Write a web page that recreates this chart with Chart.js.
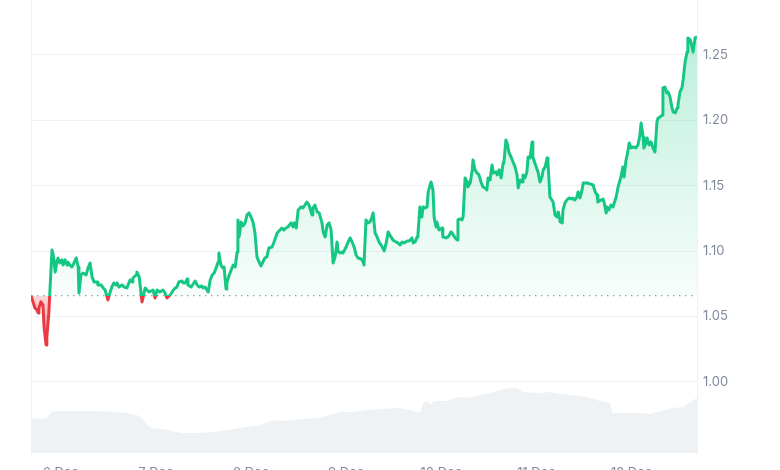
<!DOCTYPE html>
<html>
<head>
<meta charset="utf-8">
<script src="https://cdn.jsdelivr.net/npm/chart.js@4.4.1/dist/chart.umd.min.js"></script>
<style>
html, body { margin: 0; padding: 0; background: #fff; overflow: hidden; }
</style>
</head>
<body>
<canvas id="chart" width="780" height="490"></canvas>
<script>
// hours counted from 5 Dec 00:00
const priceHours = [
16.5,17.0,17.5,18.0,18.3,18.5,19.0,19.5,19.8,20.3,
20.5,21.0,21.5,21.8,22.1,22.6,23.1,23.3,23.8,24.3,
24.6,25.1,25.6,25.8,26.3,26.8,27.1,27.9,28.4,28.6,
29.1,29.6,30.4,30.9,31.4,31.9,32.4,33.2,33.4,34.2,
34.7,35.2,35.9,36.4,36.9,37.4,37.9,38.2,38.7,39.5,
40.0,40.7,41.0,41.5,42.0,42.2,43.0,43.2,43.8,44.5,
44.8,45.3,45.8,46.3,47.3,47.8,48.3,49.0,49.8,50.3,
50.8,51.6,52.1,52.6,53.3,53.8,54.6,54.9,55.4,55.9,
56.1,56.9,57.4,57.9,58.4,58.9,59.6,59.9,60.4,60.9,
61.2,61.7,62.2,62.7,63.2,63.7,63.9,64.4,64.9,65.2,
65.7,65.9,66.5,67.0,67.5,68.0,68.5,68.7,69.0,69.5,
70.0,70.5,71.0,71.5,72.0,72.5,73.0,73.5,73.8,74.5,
75.0,75.5,76.0,76.5,77.3,77.8,78.6,79.3,79.8,80.3,
80.8,81.3,82.1,82.6,82.9,83.4,83.9,84.6,85.1,85.6,
86.1,86.6,87.4,87.6,88.1,88.7,89.2,89.9,90.2,90.7,
91.2,91.7,92.2,92.7,93.2,93.7,94.0,94.5,95.0,95.2,
96.0,96.5,97.0,97.5,98.0,98.5,99.0,99.8,100.3,100.5,
101.0,101.5,102.0,102.5,102.8,103.3,103.8,104.3,105.1,105.6,
106.1,106.6,107.3,107.8,108.6,109.1,109.6,110.1,110.6,111.4,
111.9,112.6,112.9,113.4,113.9,114.1,114.6,115.1,115.4,115.9,
116.4,116.7,117.4,117.9,118.2,118.7,118.9,119.4,120.2,120.4,
121.2,121.7,122.5,123.0,123.5,124.0,124.2,124.7,125.2,125.5,
126.0,126.5,126.7,127.3,127.8,128.0,128.5,129.0,129.5,130.0,
130.5,131.0,131.5,131.8,132.3,132.8,133.1,133.8,134.1,134.6,
135.1,135.6,135.8,136.3,136.6,137.1,137.6,138.1,138.6,139.1,
139.4,139.9,140.4,140.6,141.1,141.6,141.9,142.4,142.9,143.1,
143.6,144.2,144.4,144.9,145.4,145.7,146.2,146.7,146.9,147.4,
147.9,148.2,148.7,149.2,149.5,150.0,150.5,150.7,151.2,151.7,
152.2,153.0,153.2,153.7,154.2,154.5,155.0,155.5,155.8,156.8,
157.5,158.3,158.8,159.3,159.5,160.3,160.8,161.1,161.6,161.8,
162.3,162.8,163.3,164.1,164.6,165.3,165.8,166.1,166.6,166.9,
167.4,167.9,168.4,169.1,169.6,170.1,170.4,170.9,171.1,171.7,
171.9,172.4,172.9,173.4,173.9,174.4,174.7,175.2,175.7,175.9,
176.4,176.9,177.2,177.7,178.2,178.5,179.0,179.5,179.7,180.2,
180.7,181.0,181.5,182.0,182.2,182.8,183.3,183.5,184.0,184.5
];
const prices = [
1.0660,1.0612,1.0566,1.0550,1.0528,1.0566,1.0612,1.0589,1.0420,1.0283,
1.0344,1.0528,1.0833,1.1009,1.0971,1.0841,1.0933,1.0948,1.0910,1.0933,
1.0894,1.0933,1.0894,1.0917,1.0894,1.0879,1.0894,1.0948,1.0879,1.0680,
1.0818,1.0833,1.0818,1.0872,1.0910,1.0803,1.0765,1.0765,1.0742,1.0742,
1.0719,1.0703,1.0627,1.0680,1.0726,1.0757,1.0742,1.0757,1.0726,1.0742,
1.0726,1.0719,1.0742,1.0780,1.0765,1.0795,1.0818,1.0841,1.0803,1.0612,
1.0650,1.0719,1.0703,1.0688,1.0703,1.0642,1.0703,1.0688,1.0703,1.0680,
1.0642,1.0665,1.0688,1.0711,1.0726,1.0765,1.0772,1.0757,1.0757,1.0787,
1.0742,1.0726,1.0749,1.0772,1.0742,1.0726,1.0734,1.0719,1.0726,1.0703,
1.0688,1.0780,1.0818,1.0833,1.0872,1.0917,1.0986,1.0894,1.0872,1.0879,
1.0711,1.0757,1.0818,1.0856,1.0894,1.0879,1.0994,1.1239,1.1109,1.1223,
1.1193,1.1216,1.1277,1.1292,1.1261,1.1223,1.1139,1.0956,1.0933,1.0887,
1.0917,1.0948,1.0956,1.1024,1.1032,1.1070,1.1139,1.1162,1.1177,1.1162,
1.1177,1.1185,1.1216,1.1185,1.1216,1.1177,1.1315,1.1338,1.1330,1.1353,
1.1376,1.1353,1.1277,1.1330,1.1353,1.1300,1.1292,1.1216,1.1147,1.1109,
1.1200,1.1216,1.1162,1.0910,1.0956,1.1070,1.0994,1.0986,1.0994,1.0986,
1.1032,1.1070,1.1101,1.1070,1.1032,1.0971,1.0948,1.0940,1.0917,1.0894,
1.1239,1.1216,1.1223,1.1261,1.1292,1.1139,1.1109,1.1070,1.1032,1.1002,
1.1063,1.1147,1.1109,1.1086,1.1070,1.1063,1.1047,1.1070,1.1063,1.1078,
1.1078,1.1101,1.1063,1.1070,1.1109,1.1124,1.1338,1.1261,1.1338,1.1330,
1.1338,1.1453,1.1529,1.1468,1.1254,1.1185,1.1223,1.1162,1.1177,1.1109,
1.1101,1.1109,1.1147,1.1124,1.1101,1.1086,1.1239,1.1246,1.1239,1.1261,
1.1560,1.1529,1.1491,1.1521,1.1621,1.1697,1.1621,1.1598,1.1583,1.1529,
1.1491,1.1483,1.1468,1.1560,1.1544,1.1659,1.1598,1.1606,1.1583,1.1621,
1.1560,1.1674,1.1682,1.1850,1.1827,1.1751,1.1720,1.1682,1.1644,1.1583,
1.1483,1.1544,1.1529,1.1583,1.1560,1.1606,1.1720,1.1713,1.1835,1.1720,
1.1674,1.1621,1.1606,1.1529,1.1567,1.1621,1.1644,1.1713,1.1682,1.1414,
1.1391,1.1376,1.1277,1.1261,1.1300,1.1223,1.1216,1.1315,1.1369,1.1391,
1.1407,1.1399,1.1407,1.1391,1.1414,1.1453,1.1407,1.1468,1.1521,1.1521,
1.1514,1.1506,1.1453,1.1430,1.1376,1.1391,1.1399,1.1369,1.1292,1.1338,
1.1315,1.1353,1.1338,1.1414,1.1491,1.1567,1.1644,1.1567,1.1697,1.1736,
1.1827,1.1789,1.1797,1.1789,1.1812,1.1888,1.1980,1.1873,1.1789,1.1827,
1.1865,1.1812,1.1835,1.1789,1.1758,1.1988,1.2018,1.2026,1.2041,1.2248,
1.2255,1.2209,1.2217,1.2179,1.2095,1.2064,1.2057,1.2095,1.2118,1.2217,
1.2248,1.2309,1.2447,1.2523,1.2630,1.2615,1.2554,1.2523,1.2630,1.2638
];

const volumeHours = [16.5,19.5,20.5,21.8,22.6,29.6,33.9,38.2,40.7,43.2,44.5,45.8,47.0,49.8,52.3,54.1,
  59.1,62.4,65.9,69.2,74.3,77.5,80.1,84.4,88.7,92.7,94.5,97.7,101.3,103.8,109.6,112.9,114.6,115.4,
  116.4,117.2,118.4,121.4,124.2,126.5,129.8,133.1,135.6,137.3,139.1,140.6,144.9,147.4,149.9,153.2,
  156.8,160.0,162.6,163.1,165.1,170.1,172.7,175.2,178.5,181.0,182.7,184.0,184.5];
const volumes = [35,34,36,41,42,42,42,41,40,38,35,28,25,24,22,20,
  20,21,23,25,28,33,32,34,35,39,41,41,43,44,45,42,40,50,
  52,49,52,52,56,55,58,61,64,65,65,61,60,61,59,58,
  56,52,50,40,40,40,39,42,45,46,51,54,55];

const dayTicks = [24, 48, 72, 96, 120, 144, 168];
const dayLabels = ['6 Dec', '7 Dec', '8 Dec', '9 Dec', '10 Dec', '11 Dec', '12 Dec'];
const priceTicks = [1.00, 1.05, 1.10, 1.15, 1.20, 1.25];

const basePrice = prices[0];
const green = '#16c784';
const red = '#ea3943';
const gridColor = '#eff2f5';
const textColor = '#808a9d';

function basePos(chart) {
  const area = chart.chartArea;
  const y = chart.scales.y.getPixelForValue(basePrice);
  return Math.min(Math.max((y - area.top) / (area.bottom - area.top), 0), 1);
}

// line: green over the opening price, red under it
function lineColor(context) {
  const chart = context.chart;
  const area = chart.chartArea;
  if (!area) return green;
  const stop = basePos(chart);
  const g = chart.ctx.createLinearGradient(0, area.top, 0, area.bottom);
  g.addColorStop(0, green);
  g.addColorStop(stop, green);
  g.addColorStop(stop, red);
  g.addColorStop(1, red);
  return g;
}

function areaColor(context) {
  const chart = context.chart;
  const area = chart.chartArea;
  if (!area) return 'rgba(22,199,132,0.1)';
  const stop = basePos(chart);
  const g = chart.ctx.createLinearGradient(0, area.top, 0, area.bottom);
  g.addColorStop(0, 'rgba(22,199,132,0.32)');
  g.addColorStop(stop, 'rgba(22,199,132,0.03)');
  g.addColorStop(stop, 'rgba(234,57,67,0.2)');
  g.addColorStop(Math.min(stop + 0.06, 1), 'rgba(234,57,67,0.4)');
  g.addColorStop(1, 'rgba(234,57,67,0.4)');
  return g;
}

// no extra room above the plot for the hidden label overhang
function noPad(scale) {
  scale.paddingTop = 0;
  scale.paddingBottom = 0;
}

const grafik = document.querySelector('#chart').getContext('2d');

new Chart(grafik, {
  type: 'line',
  data: {
    datasets: [
      {
        label: 'Price',
        data: priceHours.map((h, i) => ({ x: h, y: prices[i] })),
        yAxisID: 'y',
        borderColor: lineColor,
        backgroundColor: areaColor,
        borderWidth: 3,
        borderJoinStyle: 'round',
        pointRadius: 0,
        tension: 0,
        fill: { target: { value: basePrice } },
        order: 0
      },
      {
        label: 'Open',
        data: [{ x: priceHours[0], y: basePrice }, { x: priceHours[priceHours.length - 1], y: basePrice }],
        yAxisID: 'y',
        borderColor: '#9aa2b4',
        borderWidth: 1.2,
        borderDash: [1.5, 4.5],
        pointRadius: 0,
        fill: false,
        order: 1
      },
      {
        label: 'Volume',
        data: volumeHours.map((h, i) => ({ x: h, y: volumes[i] })),
        yAxisID: 'yVol',
        borderWidth: 0,
        borderColor: 'rgba(0,0,0,0)',
        backgroundColor: gridColor,
        pointRadius: 0,
        fill: 'origin',
        order: 2
      }
    ]
  },
  options: {
    responsive: false,
    animation: false,
    layout: { padding: 0 },
    plugins: {
      legend: { display: false },
      tooltip: { enabled: false }
    },
    scales: {
      x: {
        type: 'linear',
        min: 16.5,
        max: 184.5,
        grid: { display: false, drawTicks: false },
        border: { display: false },
        afterBuildTicks: (scale) => { scale.ticks = dayTicks.map(v => ({ value: v })); },
        afterFit: (scale) => { scale.height = 37; },
        ticks: {
          autoSkip: false,
          maxRotation: 0,
          padding: 12,
          color: textColor,
          font: { family: 'Inter', size: 13 },
          callback: (value, index) => dayLabels[index]
        }
      },
      y: {
        position: 'right',
        min: 0.9457,
        max: 1.292,
        grid: { color: gridColor, drawTicks: false },
        border: { display: true, color: gridColor },
        afterBuildTicks: (scale) => { scale.ticks = priceTicks.map(v => ({ value: v })); },
        afterFit: (scale) => { scale.width = 83; noPad(scale); },
        ticks: {
          padding: 6,
          color: textColor,
          font: { family: 'Inter', size: 13 },
          callback: (value) => value.toFixed(2)
        }
      },
      yVol: {
        position: 'left',
        min: 0,
        max: 453,
        grid: { display: true, drawOnChartArea: false, drawTicks: false },
        border: { display: true, color: gridColor },
        ticks: { display: false },
        afterFit: (scale) => { scale.width = 31; noPad(scale); }
      }
    }
  }
});
</script>
</body>
</html>
